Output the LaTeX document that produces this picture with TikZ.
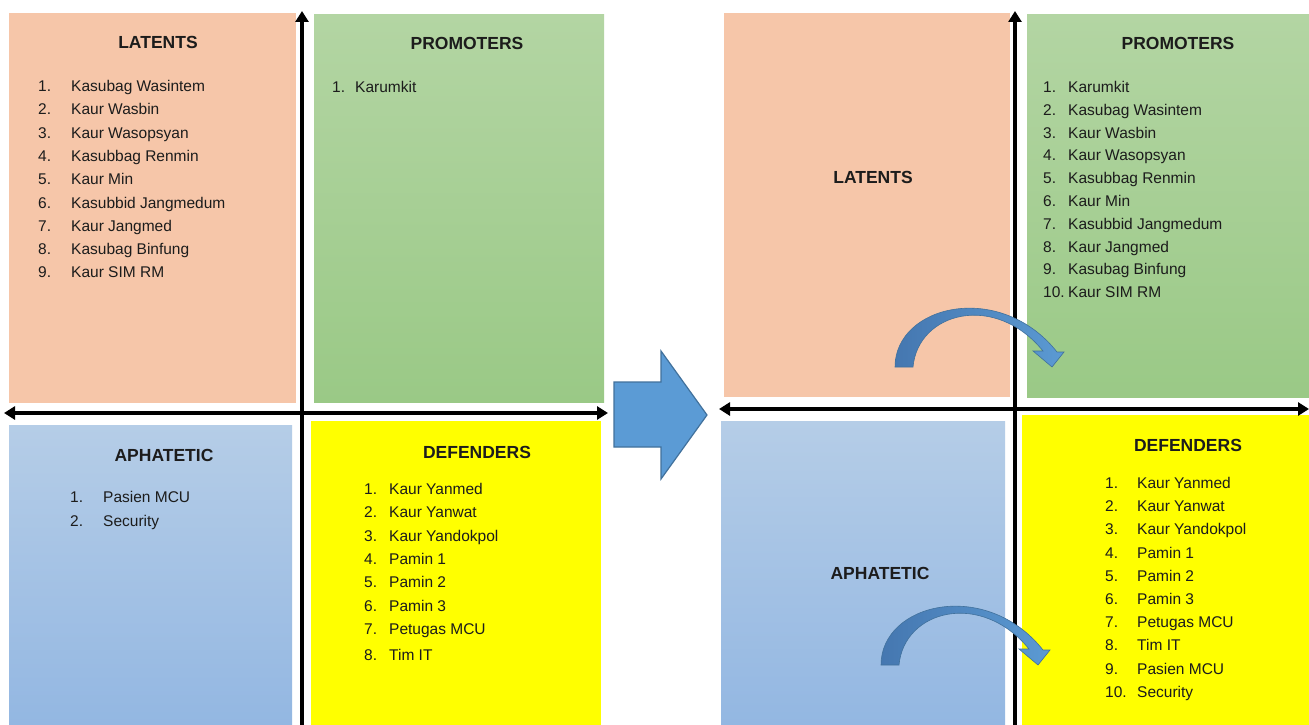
\documentclass[tikz,border=0pt]{standalone}
\usepackage{fontspec}
\setmainfont{Liberation Sans}
\usetikzlibrary{arrows.meta}
\definecolor{latC}{HTML}{F6C6A9}
\definecolor{proTop}{HTML}{B3D5A3}
\definecolor{proBot}{HTML}{9AC986}
\definecolor{aphTop}{HTML}{B5CDE7}
\definecolor{aphBot}{HTML}{93B7E2}
\definecolor{defC}{HTML}{FFFF00}
\definecolor{bigA}{HTML}{5B9BD5}
\definecolor{bigE}{HTML}{41719C}
\definecolor{curA}{HTML}{4577B0}
\definecolor{curB}{HTML}{5B9AD3}
\definecolor{txt}{HTML}{1C1C1C}
\tikzset{
  latbox/.style={fill=latC},
  probox/.style={top color=proTop,bottom color=proBot},
  aphbox/.style={top color=aphTop,bottom color=aphBot},
  defbox/.style={fill=defC},
  axisline/.style={line width=4.5pt,black,-{Triangle[length=11pt,width=13pt]}},
  axisboth/.style={line width=4.5pt,black,{Triangle[length=11pt,width=13pt]}-{Triangle[length=11pt,width=13pt]}},
  ttl/.style={font=\fontsize{17.5}{20}\selectfont\bfseries,text=txt,inner sep=0pt},
  itm/.style={font=\fontsize{15.5}{18}\selectfont,text=txt,inner sep=0pt,anchor=base west},
  bigarrow/.style={fill=bigA,draw=bigE,line width=1.2pt,line join=miter},
  curvearrow/.style={left color=curA,right color=curB,draw=bigE,line width=0.6pt}
}
\newcommand{\itemlist}[5]{% prefix, numx, textx, firsty, step ; list in \itemsof
  \foreach \t [count=\i] in #5 {
    \node[itm] (#1n\i) at (#2,{#4+(\i-1)*#3+5.5}) {\i.};
  }
}
\begin{document}
\begin{tikzpicture}[x=1pt,y=-1pt]
\useasboundingbox (0,0) rectangle (1309,725);
\fill[white] (0,0) rectangle (1309,725);
% ---------- left panel ----------
\fill[latbox] (9,13) rectangle (296,403);
\fill[probox] (314,15) rectangle (604,402);
\fill[aphbox] (9,425) rectangle (292,725);
\fill[defbox] (311,421) rectangle (601,725);
\coordinate (lBot) at (302,725);
\coordinate (lTop) at (302,11);
\coordinate (lW) at (4,413);
\coordinate (lE) at (608,413);
\draw[axisline] (lBot) -- (lTop);
\draw[axisboth] (lW) -- (lE);

\node[ttl] (llT) at (158,42) {LATENTS};
\foreach \t [count=\i] in {Kasubag Wasintem,Kaur Wasbin,Kaur Wasopsyan,Kasubbag Renmin,Kaur Min,Kasubbid Jangmedum,Kaur Jangmed,Kasubag Binfung,Kaur SIM RM}{
  \node[itm] (lln\i) at (38,{86+(\i-1)*23.3+5.5}) {\i.};
  \node[itm] (llt\i) at (71,{86+(\i-1)*23.3+5.5}) {\t};
}
\node[ttl] (lpT) at (467,43) {PROMOTERS};
\node[itm] (lpn1) at (332,92.5) {1.};
\node[itm] (lpt1) at (355,92.5) {Karumkit};

\node[ttl] (laT) at (164,455) {APHATETIC};
\foreach \t [count=\i] in {Pasien MCU,Security}{
  \node[itm] (lan\i) at (70,{497+(\i-1)*24+5.5}) {\i.};
  \node[itm] (lat\i) at (103,{497+(\i-1)*24+5.5}) {\t};
}
\node[ttl] (ldT) at (477,452) {DEFENDERS};
\foreach \t/\yy [count=\i] in {Kaur Yanmed/489,Kaur Yanwat/512.3,Kaur Yandokpol/535.6,Pamin 1/559,Pamin 2/582.3,Pamin 3/605.6,Petugas MCU/629,Tim IT/655}{
  \node[itm] (ldn\i) at (364,{\yy+5.5}) {\i.};
  \node[itm] (ldt\i) at (389,{\yy+5.5}) {\t};
}

% ---------- big arrow ----------
\coordinate (ba1) at (614,382);
\coordinate (ba2) at (661,382);
\coordinate (ba3) at (661,351);
\coordinate (ba4) at (707,415);
\coordinate (ba5) at (661,479);
\coordinate (ba6) at (661,447);
\coordinate (ba7) at (614,447);
\draw[bigarrow] (ba1) -- (ba2) -- (ba3) -- (ba4) -- (ba5) -- (ba6) -- (ba7) -- cycle;

% ---------- right panel ----------
\fill[latbox] (724,13) rectangle (1010,397);
\fill[probox] (1027,15) rectangle (1309,397);
\fill[aphbox] (721,421) rectangle (1005,725);
\fill[defbox] (1022,415) rectangle (1309,725);
\coordinate (rBot) at (1015,725);
\coordinate (rTop) at (1015,11);
\coordinate (rW) at (719,409);
\coordinate (rE) at (1309,409);
\draw[axisline] (rBot) -- (rTop);
\draw[axisboth] (rW) -- (rE);

\node[ttl] (rlT) at (873,177) {LATENTS};
\node[ttl] (raT) at (880,573) {APHATETIC};
\node[ttl] (rpT) at (1178,43) {PROMOTERS};
\foreach \t [count=\i] in {Karumkit,Kasubag Wasintem,Kaur Wasbin,Kaur Wasopsyan,Kasubbag Renmin,Kaur Min,Kasubbid Jangmedum,Kaur Jangmed,Kasubag Binfung}{
  \node[itm] (rpn\i) at (1043,{87+(\i-1)*22.8+5.5}) {\i.};
  \node[itm] (rpt\i) at (1068,{87+(\i-1)*22.8+5.5}) {\t};
}
\node[itm] (rpn10) at (1043,{87+9*22.8+5.5}) {10.};
\node[itm] (rpt10) at (1068,{87+9*22.8+5.5}) {Kaur SIM RM};

\node[ttl] (rdT) at (1188,445) {DEFENDERS};
\foreach \t [count=\i] in {Kaur Yanmed,Kaur Yanwat,Kaur Yandokpol,Pamin 1,Pamin 2,Pamin 3,Petugas MCU,Tim IT,Pasien MCU,Security}{
  \node[itm] (rdn\i) at (1105,{483+(\i-1)*23.2+5.5}) {\i.};
  \node[itm] (rdt\i) at (1137,{483+(\i-1)*23.2+5.5}) {\t};
}

% ---------- curved arrows ----------
\foreach \dx/\dy/\nm in {0/0/up,-14/298/dn}{
  \begin{scope}[shift={(\dx,\dy)}]
    \coordinate (\nm a) at (895,367);
    \coordinate (\nm b) at (1057,352);
    \coordinate (\nm c) at (1064,352);
    \coordinate (\nm d) at (1052,367);
    \coordinate (\nm e) at (1033,351);
    \coordinate (\nm f) at (1043,351);
    \coordinate (\nm g) at (913,367);
    \draw[curvearrow] (\nm a) .. controls (895,305) and (1000,280) .. (\nm b)
      -- (\nm c) -- (\nm d) -- (\nm e) -- (\nm f)
      .. controls (995,292) and (918,312) .. (\nm g) -- cycle;
  \end{scope}
}
\end{tikzpicture}
\end{document}
